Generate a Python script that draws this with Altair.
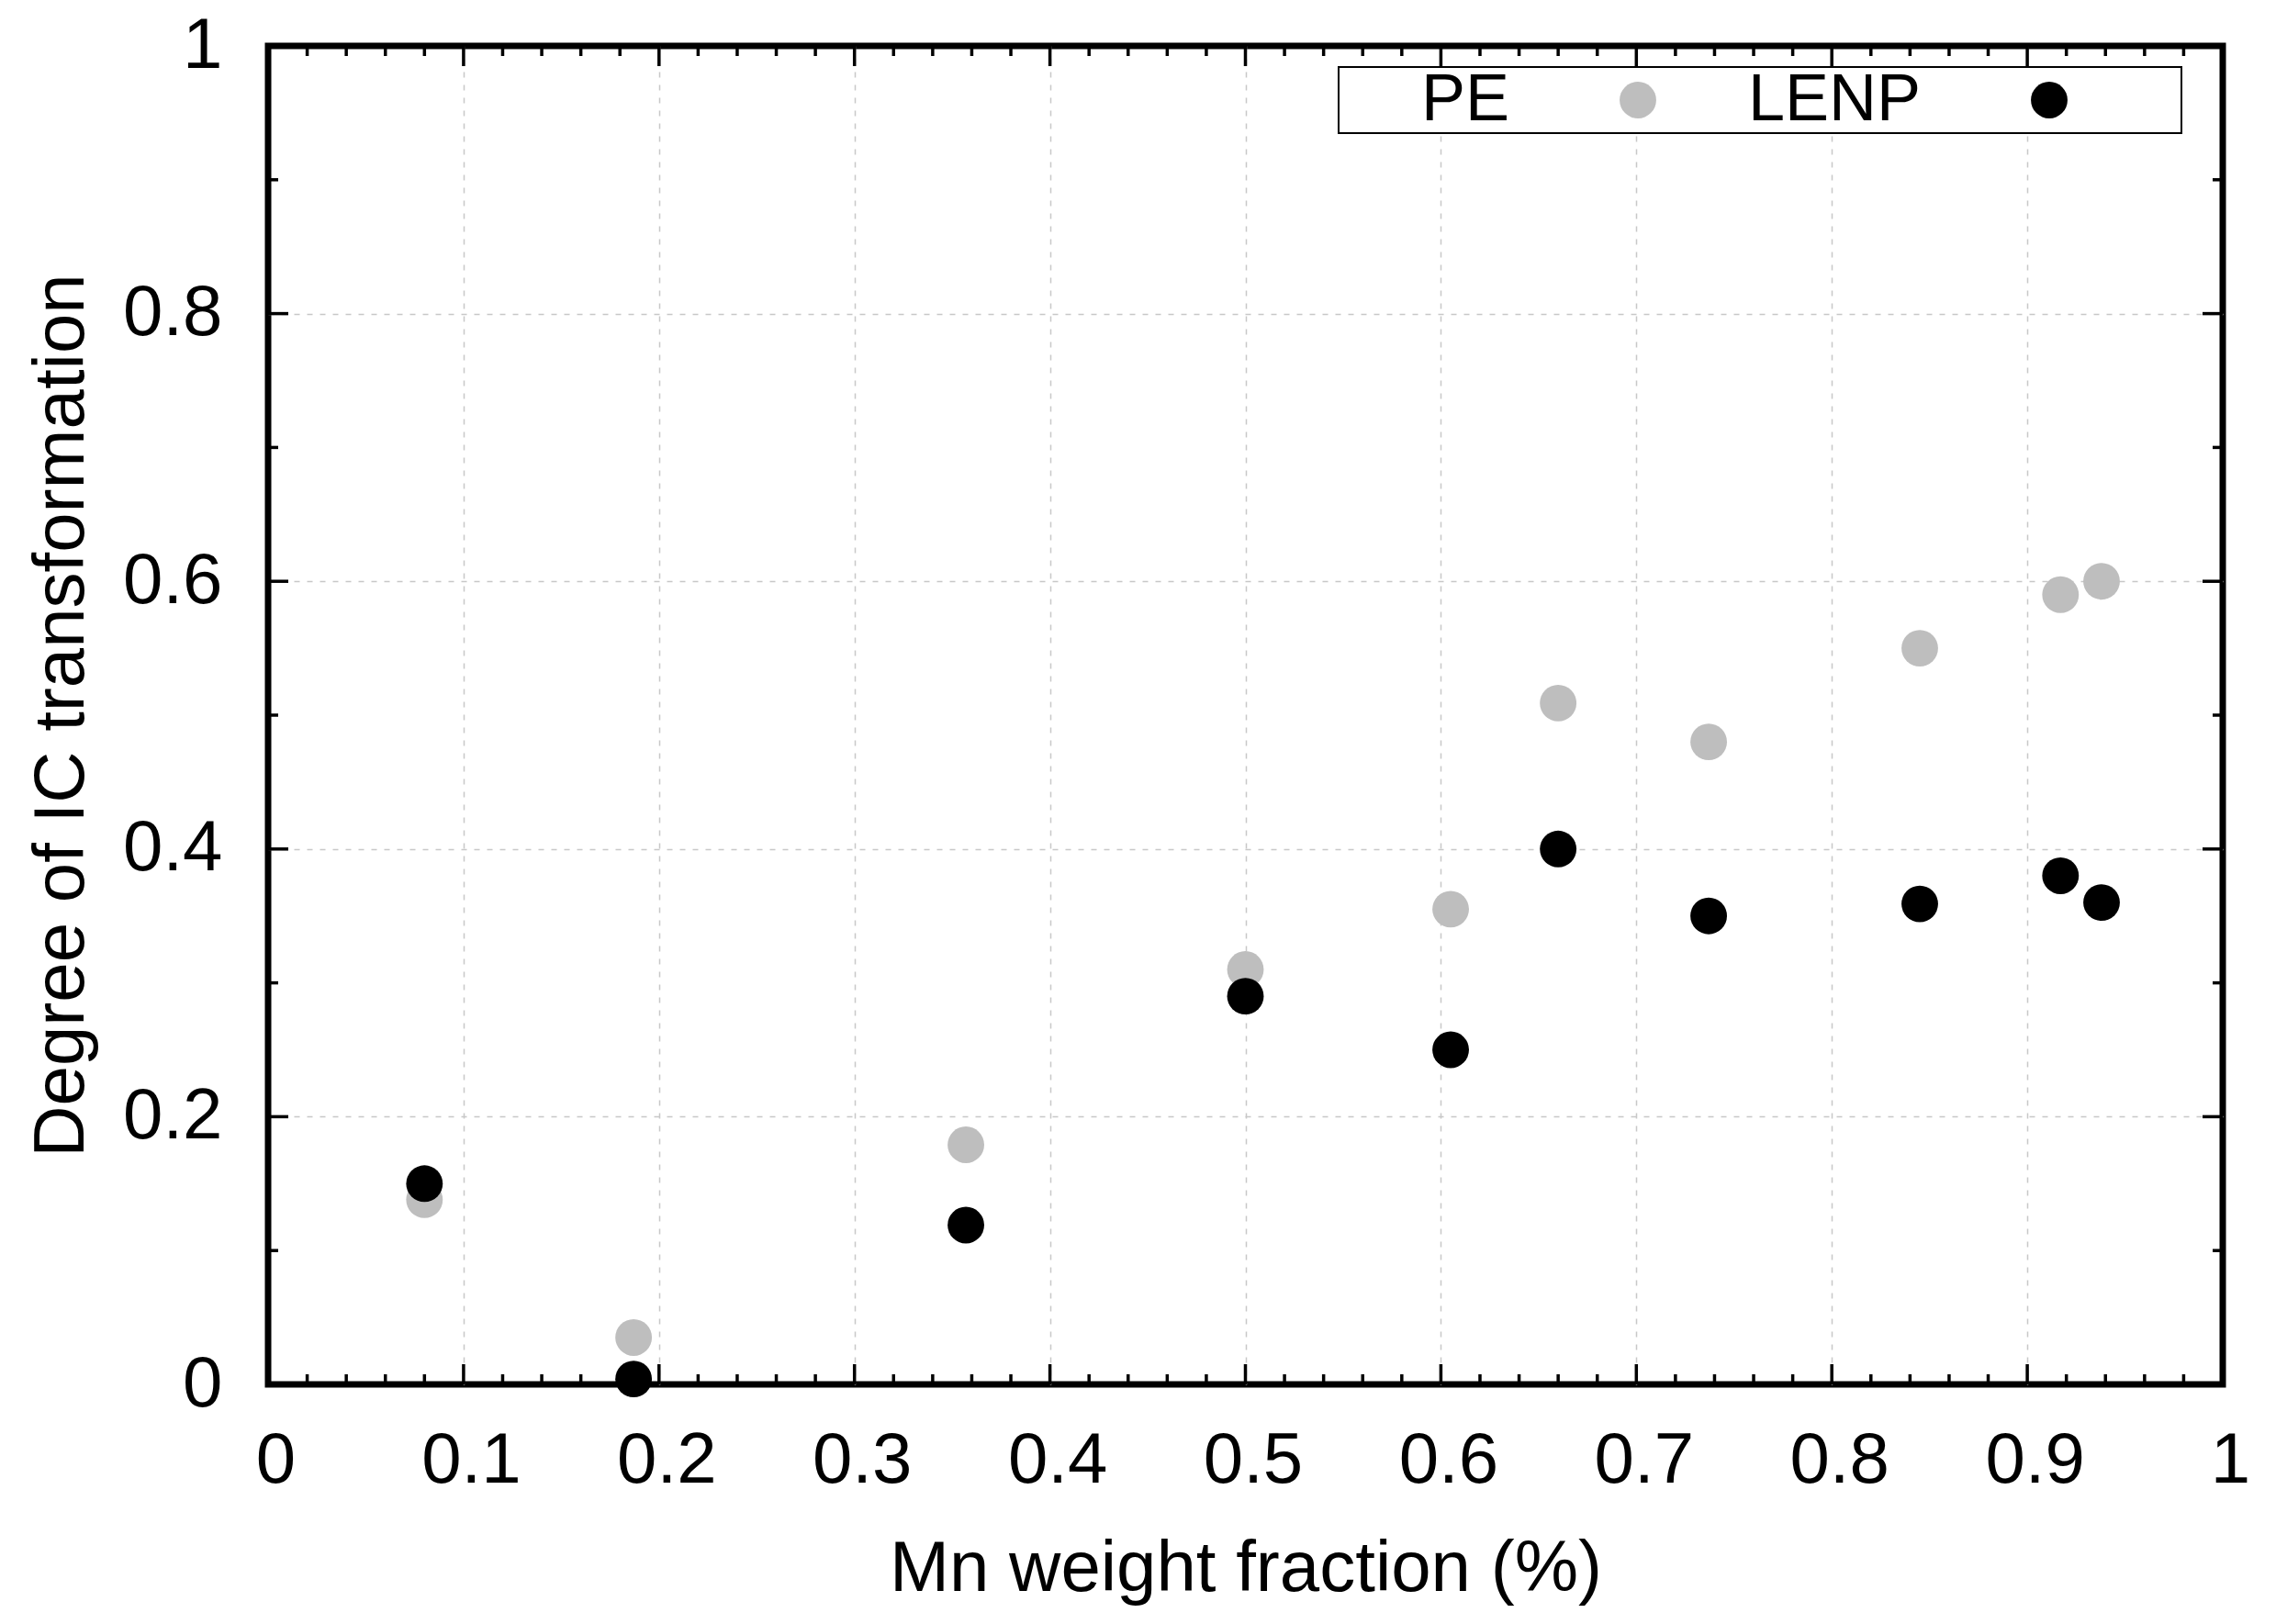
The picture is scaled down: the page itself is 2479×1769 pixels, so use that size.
import altair as alt
import pandas as pd

# ---- data ----
mn_fraction = [0.080, 0.187, 0.357, 0.500, 0.605, 0.660, 0.737, 0.845, 0.917, 0.938]
pe_degree = [0.138, 0.035, 0.179, 0.310, 0.355, 0.509, 0.480, 0.550, 0.590, 0.600]
lenp_degree = [0.150, 0.004, 0.119, 0.290, 0.250, 0.400, 0.350, 0.359, 0.380, 0.360]
series_names = ["PE", "LENP"]
series_colors = ["#bebebe", "#000000"]

x_label_values = [0.0, 0.1, 0.2, 0.3, 0.4, 0.5, 0.6, 0.7, 0.8, 0.9, 1.0]
y_label_values = [0.0, 0.2, 0.4, 0.6, 0.8, 1.0]
x_major_ticks = [0.1, 0.2, 0.3, 0.4, 0.5, 0.6, 0.7, 0.8, 0.9]
x_minor_ticks = [0.02, 0.04, 0.06, 0.08, 0.12, 0.14, 0.16, 0.18, 0.22, 0.24, 0.26, 0.28,
                 0.32, 0.34, 0.36, 0.38, 0.42, 0.44, 0.46, 0.48, 0.52, 0.54, 0.56, 0.58,
                 0.62, 0.64, 0.66, 0.68, 0.72, 0.74, 0.76, 0.78, 0.82, 0.84, 0.86, 0.88,
                 0.92, 0.94, 0.96, 0.98]
y_major_ticks = [0.2, 0.4, 0.6, 0.8]
y_minor_ticks = [0.1, 0.3, 0.5, 0.7, 0.9]

FONT = "Liberation Sans"
W, H = 2129, 1458
MAJOR, MINOR, THICK = 22, 11, 3.5

rows = []
for name, vals in zip(series_names, [pe_degree, lenp_degree]):
    for xv, yv in zip(mn_fraction, vals):
        rows.append({"x": xv, "y": yv, "series": name})
points_df = pd.DataFrame(rows)

xscale = alt.Scale(domain=[0, 1], nice=False, zero=False)
yscale = alt.Scale(domain=[0, 1], nice=False, zero=False)

grid_op = alt.condition("datum.value <= 0 || datum.value >= 1", alt.value(0), alt.value(1))

x_axis = alt.Axis(
    title="Mn weight fraction (%)", values=x_label_values, format="~g",
    labelFlush=False, labelPadding=44, labelOffset=8, ticks=False, tickSize=0,
    domain=False, grid=True, gridDash=[6, 8], gridColor="#c8c8c8", gridWidth=1.5,
    gridOpacity=grid_op, titleY=224, titleBaseline="alphabetic",
    labelOverlap=False,
)
y_axis = alt.Axis(
    title="Degree of IC transformation", values=y_label_values, format="~g",
    labelFlush=False, labelPadding=50, ticks=False, tickSize=0,
    domain=False, grid=True, gridDash=[6, 8], gridColor="#c8c8c8", gridWidth=1.5,
    gridOpacity=grid_op, titleX=-202, titleAngle=270, titleBaseline="alphabetic",
    labelOverlap=False,
)


def x_ticks(values, size, top):
    df = pd.DataFrame({"t": values})
    return alt.Chart(df).mark_tick(
        orient="vertical", size=size, thickness=THICK, color="black", opacity=1,
        yOffset=(size / 2 if top else -size / 2),
    ).encode(
        x=alt.X("t:Q", scale=xscale, axis=x_axis),
        y=alt.YDatum(1 if top else 0, scale=yscale, axis=y_axis),
    )


def y_ticks(values, size, right):
    df = pd.DataFrame({"t": values})
    return alt.Chart(df).mark_tick(
        orient="horizontal", size=size, thickness=THICK, color="black", opacity=1,
        xOffset=(-size / 2 if right else size / 2),
    ).encode(
        y=alt.Y("t:Q", scale=yscale, axis=y_axis),
        x=alt.XDatum(1 if right else 0, scale=xscale, axis=x_axis),
    )


tick_layers = [
    x_ticks(x_major_ticks, MAJOR, False), x_ticks(x_minor_ticks, MINOR, False),
    x_ticks(x_major_ticks, MAJOR, True), x_ticks(x_minor_ticks, MINOR, True),
    y_ticks(y_major_ticks, MAJOR, False), y_ticks(y_minor_ticks, MINOR, False),
    y_ticks(y_major_ticks, MAJOR, True), y_ticks(y_minor_ticks, MINOR, True),
]

points = alt.Chart(points_df).mark_circle(size=1590, opacity=1).encode(
    x=alt.X("x:Q", scale=xscale, axis=x_axis),
    y=alt.Y("y:Q", scale=yscale, axis=y_axis),
    color=alt.Color(
        "series:N",
        scale=alt.Scale(domain=series_names, range=series_colors),
        legend=alt.Legend(
            title=" ", titleOrient="right", titleFontSize=72, titlePadding=124,
            orient="none", legendX=1166, legendY=23, direction="horizontal",
            strokeColor="black", fillColor="white", padding=0,
            labelAlign="right", labelOffset=alt.ExprRef(expr="-176"),
            symbolOffset=290, columnPadding=99,
            symbolSize=1590, symbolType="circle", symbolStrokeWidth=0, symbolOpacity=1,
            labelFont=FONT, labelFontSize=72, labelColor="black", labelLimit=0,
        ),
    ),
)

chart = alt.layer(*tick_layers, points).properties(
    width=W, height=H,
    padding={"left": 284, "top": 42, "right": 40, "bottom": 245},
    autosize=alt.AutoSizeParams(type="none"),
    background="white",
).configure_view(
    stroke="black", strokeWidth=7
).configure_axis(
    labelFont=FONT, labelFontSize=78, labelColor="black",
    titleFont=FONT, titleFontSize=78, titleColor="black", titleFontWeight="normal",
).configure_legend(
    strokeWidth=2
)

chart.save("out.html", embed_options={"renderer": "svg", "actions": False})
